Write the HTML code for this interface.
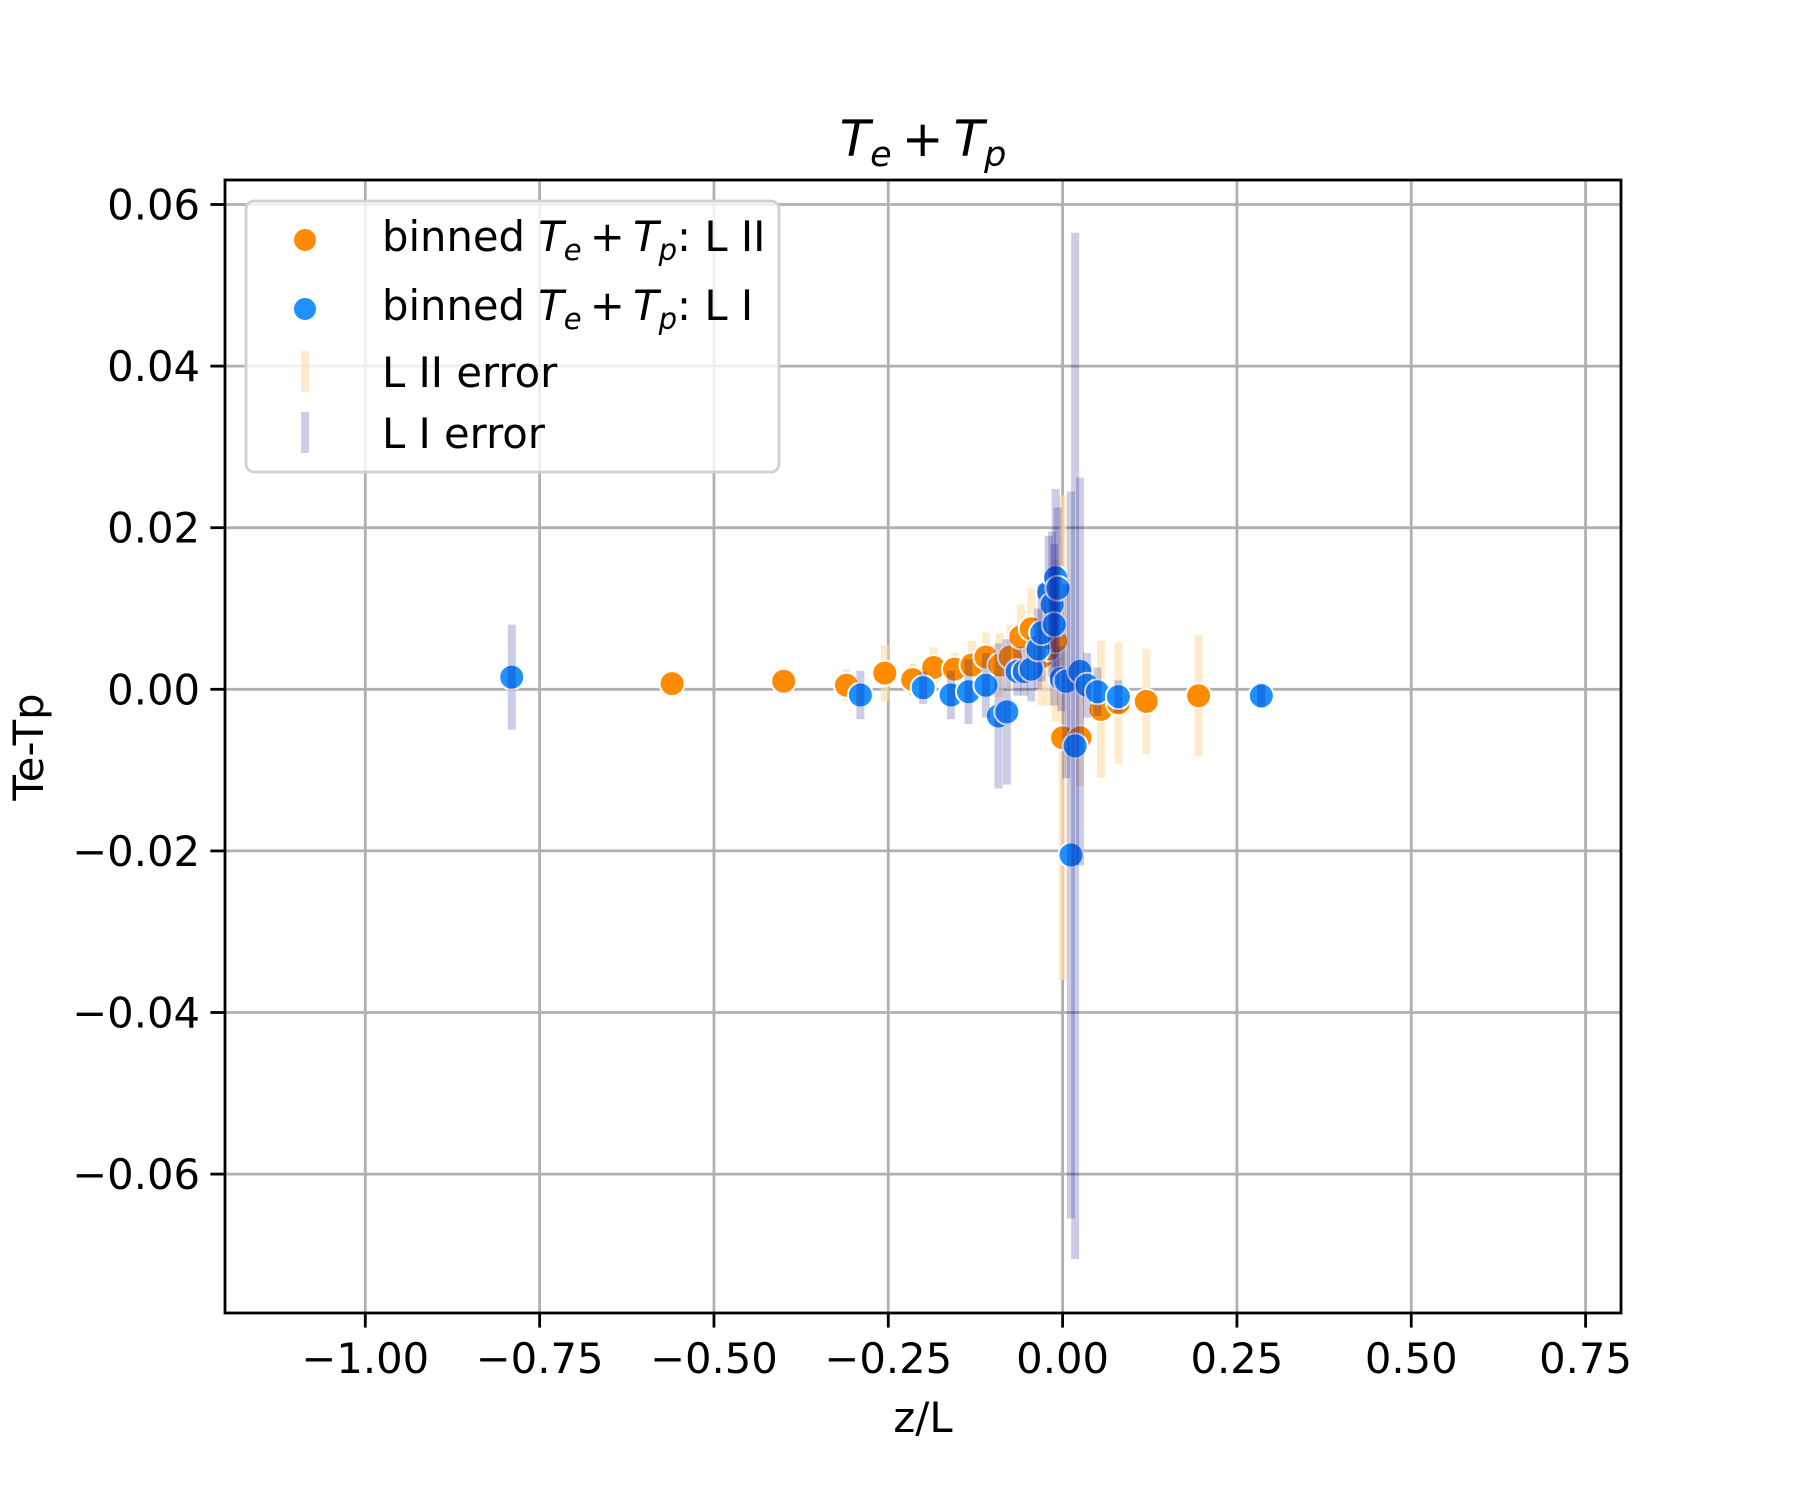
<!DOCTYPE html>
<html><head><meta charset="utf-8"><style>
html,body{margin:0;padding:0;background:#fff;}
svg{display:block;font-family:"DejaVu Sans","Liberation Sans",sans-serif;}
</style></head><body>
<svg id="chart" width="1800" height="1500" viewBox="0 0 1800 1500" xmlns="http://www.w3.org/2000/svg">
<rect width="1800" height="1500" fill="#fff"/>
<g id="grid"></g>
<g id="marks"></g>
<g id="axes"></g>
</svg>
<script>
const xTicks = [-1.0, -0.75, -0.5, -0.25, 0.0, 0.25, 0.5, 0.75];
const xTickLabels = ["\u22121.00","\u22120.75","\u22120.50","\u22120.25","0.00","0.25","0.50","0.75"];
const yTicks = [0.06, 0.04, 0.02, 0.0, -0.02, -0.04, -0.06];
const yTickLabels = ["0.06","0.04","0.02","0.00","\u22120.02","\u22120.04","\u22120.06"];

const l2X = [-0.56,-0.40,-0.31,-0.255,-0.215,-0.185,-0.155,-0.13,-0.11,-0.09,-0.075,-0.06,-0.045,-0.03,-0.02,-0.01,0.0,0.025,0.055,0.08,0.12,0.195];
const l2Y = [0.0007,0.0010,0.0005,0.0020,0.0012,0.0027,0.0025,0.0030,0.0040,0.0030,0.0040,0.0065,0.0075,0.0040,0.0050,0.0060,-0.0060,-0.0060,-0.0025,-0.0017,-0.0015,-0.0008];
const l2Err = [0.001,0.001,0.002,0.0035,0.002,0.0025,0.002,0.003,0.003,0.004,0.004,0.004,0.005,0.006,0.007,0.01,0.030,0.006,0.0085,0.0075,0.0065,0.0075];

const l1X = [-0.79,-0.29,-0.20,-0.16,-0.135,-0.11,-0.092,-0.08,-0.065,-0.055,-0.045,-0.035,-0.03,-0.02,-0.015,-0.012,-0.01,-0.007,-0.002,0.005,0.012,0.018,0.025,0.035,0.05,0.08,0.285];
const l1Y = [0.0015,-0.0007,0.0002,-0.0007,-0.0003,0.0005,-0.0033,-0.0028,0.0022,0.0022,0.0025,0.0050,0.0070,0.0120,0.0105,0.0080,0.0138,0.0125,0.0013,0.0010,-0.0205,-0.0070,0.0022,0.0005,-0.0003,-0.0009,-0.0008];
const l1Err = [0.0065,0.003,0.002,0.003,0.004,0.004,0.009,0.009,0.003,0.003,0.004,0.005,0.006,0.007,0.009,0.010,0.011,0.010,0.004,0.012,0.045,0.0635,0.024,0.004,0.003,0.002,0.0015];

const L=225,R=1621,T=180,B=1313;
function sx(v){return 1062.6+v*697.3;}
function sy(v){return 689.3-v*8080;}
const NS="http://www.w3.org/2000/svg";
function mk(tag,attrs,parent){const e=document.createElementNS(NS,tag);for(const k in attrs)e.setAttribute(k,attrs[k]);parent.appendChild(e);return e;}

const grid=document.getElementById('grid');
xTicks.forEach(t=>{const g=mk('line',{x1:sx(t),x2:sx(t),y1:T,y2:B,stroke:'#b0b0b0','stroke-width':2.8},grid);

});
yTicks.forEach(t=>{const g=mk('line',{x1:L,x2:R,y1:sy(t),y2:sy(t),stroke:'#b0b0b0','stroke-width':2.8},grid);

});

const marks=document.getElementById('marks');
l2X.forEach((x,i)=>{const e=mk('line',{x1:sx(x),x2:sx(x),y1:sy(l2Y[i]+l2Err[i]),y2:sy(l2Y[i]-l2Err[i]),stroke:'#ffdeb0','stroke-opacity':0.65,'stroke-width':8},marks);

});
l2X.forEach((x,i)=>{const c=mk('circle',{cx:sx(x),cy:sy(l2Y[i]),r:12.5,fill:'#ff8c00',stroke:'#fff','stroke-width':2},marks);

});
l1X.forEach((x,i)=>{const c=mk('circle',{cx:sx(x),cy:sy(l1Y[i]),r:12.5,fill:'#1e90ff',stroke:'#fff','stroke-width':2},marks);

});
l1X.forEach((x,i)=>{const e=mk('line',{x1:sx(x),x2:sx(x),y1:sy(l1Y[i]+l1Err[i]),y2:sy(l1Y[i]-l1Err[i]),stroke:'#000080','stroke-opacity':0.2,'stroke-width':8},marks);

});

const axes=document.getElementById('axes');
const frame=mk('rect',{x:L,y:T,width:R-L,height:B-T,fill:'none',stroke:'#000','stroke-width':2.8},axes);


xTicks.forEach((t,i)=>{mk('line',{x1:sx(t),x2:sx(t),y1:B,y2:B+14.6,stroke:'#000','stroke-width':2.8},axes);
const tx=mk('text',{x:sx(t),y:B+60,'text-anchor':'middle','font-size':41.7,fill:'#000'},axes);
tx.textContent=xTickLabels[i];

});
yTicks.forEach((t,i)=>{mk('line',{x1:L-14.6,x2:L,y1:sy(t),y2:sy(t),stroke:'#000','stroke-width':2.8},axes);
const tx=mk('text',{x:L-25,y:sy(t)+15,'text-anchor':'end','font-size':41.7,fill:'#000'},axes);
tx.textContent=yTickLabels[i];

});
</script>
<script>
(function(){
const svg=document.getElementById('chart');
function add(html){svg.insertAdjacentHTML('beforeend',html);}
add('<text x="923" y="156" text-anchor="middle" font-size="50"><tspan font-style="italic">T</tspan><tspan font-size="35" dy="10" font-style="italic">e</tspan><tspan dy="-10">\u2009+\u2009</tspan><tspan font-style="italic">T</tspan><tspan font-size="35" dy="10" font-style="italic">p</tspan></text>');
add('<text x="923" y="1432" text-anchor="middle" font-size="41.7">z/L</text>');
add('<text transform="translate(43,747) rotate(-90)" text-anchor="middle" font-size="41.7">Te-Tp</text>');
add('<g>'+
'<rect x="246" y="201" width="533" height="271" rx="8" fill="#fff" fill-opacity="0.8" stroke="#d0d0d0" stroke-width="2.8"/>'+
'<circle cx="305" cy="240" r="12" fill="#ff8c00" stroke="#fff" stroke-width="2"/>'+
'<text x="382" y="251" font-size="41.7">binned <tspan font-style="italic">T</tspan><tspan font-size="29" dy="9" font-style="italic">e</tspan><tspan dy="-9">\u2009+\u2009</tspan><tspan font-style="italic">T</tspan><tspan font-size="29" dy="9" font-style="italic">p</tspan><tspan dy="-9">: L II</tspan></text>'+
'<circle cx="305" cy="309" r="12" fill="#1e90ff" stroke="#fff" stroke-width="2"/>'+
'<text x="382" y="320" font-size="41.7">binned <tspan font-style="italic">T</tspan><tspan font-size="29" dy="9" font-style="italic">e</tspan><tspan dy="-9">\u2009+\u2009</tspan><tspan font-style="italic">T</tspan><tspan font-size="29" dy="9" font-style="italic">p</tspan><tspan dy="-9">: L I</tspan></text>'+
'<line x1="305" x2="305" y1="351" y2="392" stroke="#ffdeb0" stroke-opacity="0.65" stroke-width="8"/>'+
'<text x="382" y="387" font-size="41.7">L II error</text>'+
'<line x1="305" x2="305" y1="412" y2="453" stroke="#000080" stroke-opacity="0.2" stroke-width="8"/>'+
'<text x="382" y="448" font-size="41.7">L I error</text>'+
'</g>');
})();
</script>
</body></html>
